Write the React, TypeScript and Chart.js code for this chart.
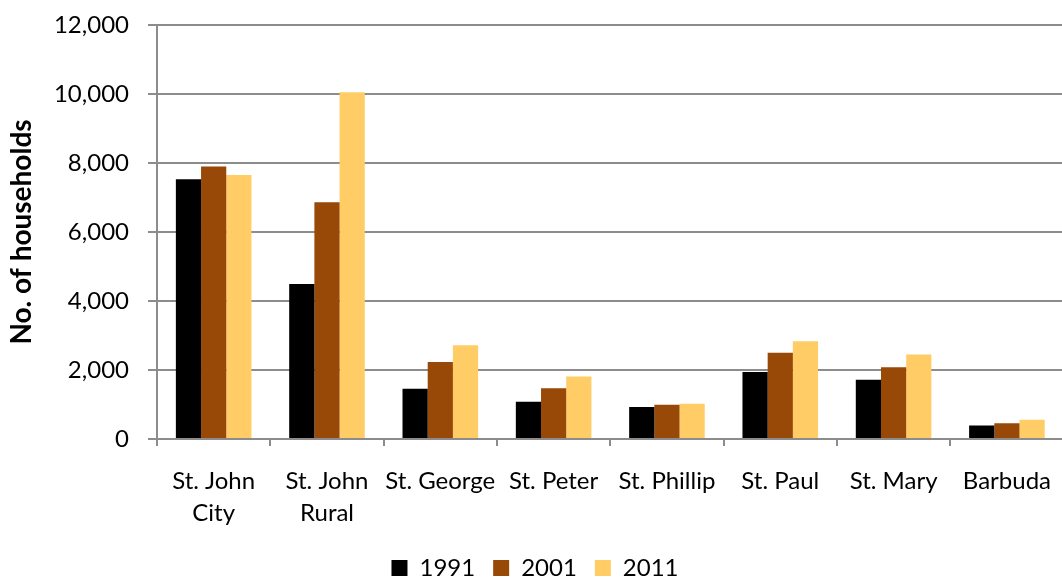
import React, { useEffect, useRef } from "react";
import { Chart, registerables } from "chart.js";

Chart.register(...registerables);

const categories: (string | string[])[] = [
  ["St. John", "City"],
  ["St. John", "Rural"],
  "St. George",
  "St. Peter",
  "St. Phillip",
  "St. Paul",
  "St. Mary",
  "Barbuda",
];
const seriesNames = ["1991", "2001", "2011"];
const values1991 = [7530, 4490, 1460, 1080, 930, 1940, 1720, 390];
const values2001 = [7900, 6860, 2230, 1470, 990, 2500, 2080, 460];
const values2011 = [7650, 10050, 2720, 1810, 1020, 2830, 2450, 555];
const yAxisTitle = "No. of households";
const yMin = 0;
const yMax = 12000;
const yStep = 2000;

const FONT = "Lato";
const GRID = "#8c8c8c";

export default function App() {
  const ref = useRef<HTMLCanvasElement | null>(null);

  useEffect(() => {
    if (!ref.current) return;
    const chart = new Chart(ref.current, {
      type: "bar",
      data: {
        labels: categories,
        datasets: [
          { label: seriesNames[0], data: values1991, backgroundColor: "#000000" },
          { label: seriesNames[1], data: values2001, backgroundColor: "#984807" },
          { label: seriesNames[2], data: values2011, backgroundColor: "#FFCC66" },
        ],
      },
      options: {
        animation: false,
        responsive: false,
        maintainAspectRatio: false,
        datasets: {
          bar: { categoryPercentage: 0.667, barPercentage: 1.0 },
        },
        layout: { padding: { top: 25, left: 0, right: 0, bottom: 0 } },
        plugins: {
          legend: {
            position: "bottom",
            labels: {
              color: "#000",
              font: { family: FONT, size: 24 },
              boxWidth: 16,
              boxHeight: 16,
              padding: 18,
            },
          },
          tooltip: { enabled: false },
        },
        scales: {
          x: {
            grid: {
              display: true,
              drawOnChartArea: false,
              offset: true,
              tickLength: 7,
              color: GRID,
              lineWidth: 2,
            },
            border: { color: GRID, width: 2 },
            ticks: {
              color: "#000",
              font: { family: FONT, size: 24, lineHeight: 1.35 },
              padding: 19,
              maxRotation: 0,
              autoSkip: false,
            },
            afterFit: (scale: any) => {
              scale.height = 99;
            },
          },
          y: {
            min: yMin,
            max: yMax,
            grid: { color: GRID, lineWidth: 2, tickLength: 9 },
            border: { color: GRID, width: 2 },
            ticks: {
              stepSize: yStep,
              color: "#000",
              font: { family: FONT, size: 24 },
              padding: 19,
              callback: (v: any) => Number(v).toLocaleString("en-US"),
            },
            title: {
              display: true,
              text: yAxisTitle,
              color: "#000",
              font: { family: FONT, size: 28, weight: "bold" },
              padding: { top: 5, bottom: 0 },
            },
            afterFit: (scale: any) => {
              scale.width = 157;
              scale.paddingTop = 0;
              scale.paddingBottom = 0;
            },
          },
        },
      },
    });
    return () => chart.destroy();
  }, []);

  return (
    <div style={{ position: "fixed", left: 0, top: 0, width: 1062, height: 577, overflow: "hidden", background: "#fff" }}>
      <canvas ref={ref} width={1070} height={590} style={{ display: "block", width: 1070, height: 590 }} />
    </div>
  );
}
